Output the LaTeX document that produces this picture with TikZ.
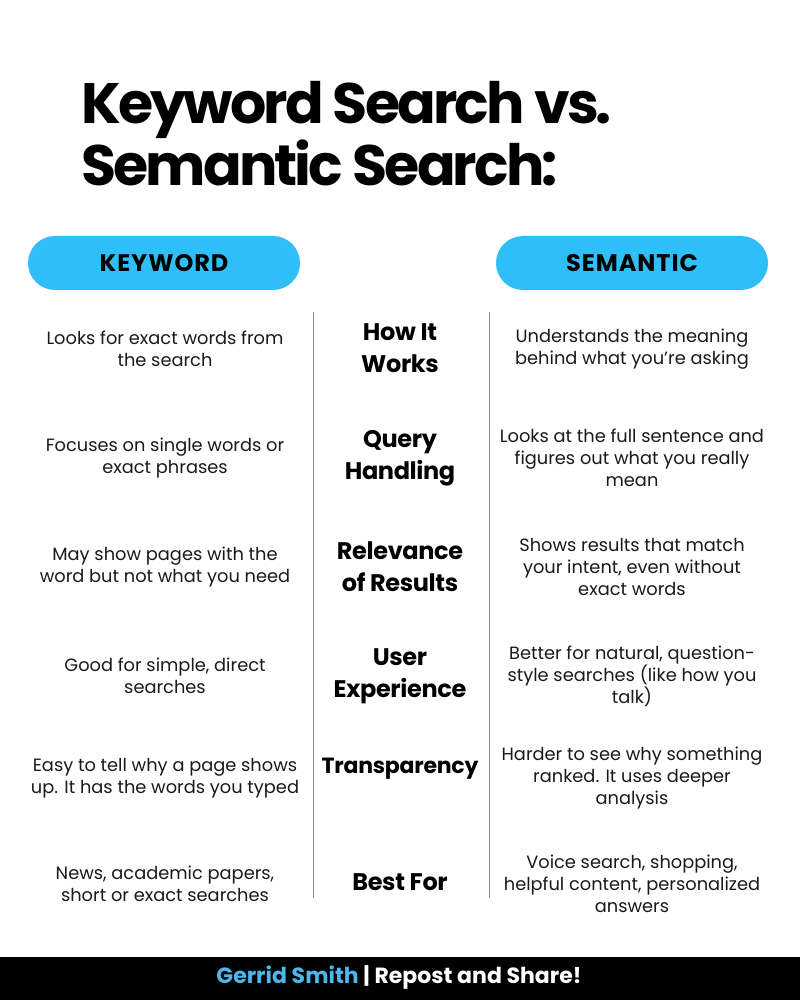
\documentclass[tikz,border=0pt]{standalone}
\usepackage{fontspec}
\setmainfont{Poppins}
\definecolor{pillblue}{HTML}{2EBFF8}
\definecolor{footblue}{HTML}{4DB6EC}
\definecolor{bodyink}{HTML}{1A1A1A}
\definecolor{rulegray}{HTML}{8A8A8A}
\begin{document}
\begin{tikzpicture}[x=1pt,y=-1pt,
  bodytext/.style={align=center, text=bodyink, inner sep=0pt, font=\fontsize{17.8}{22}\selectfont},
  midlabel/.style={align=center, text=black, inner sep=0pt, font=\fontsize{24}{32}\selectfont\bfseries\addfontfeatures{LetterSpace=-1.5}},
  pill/.style={fill=pillblue, rounded corners=27pt, minimum width=272pt, minimum height=54pt, inner sep=0pt, font=\fontsize{24}{26}\selectfont\bfseries\addfontfeatures{LetterSpace=4}},
  titletext/.style={anchor=base west, inner sep=0pt, font=\fontsize{57}{61}\selectfont\bfseries\addfontfeatures{LetterSpace=-5}},
  colrule/.style={draw=rulegray, line width=1pt}]
\useasboundingbox (0,0) rectangle (800,1000);
\fill[white] (0,0) rectangle (800,1000);
% title
\node[titletext] (t1) at (81,124) {Keyword Search vs.};
\node[titletext] (t2) at (81,186) {Semantic Search:};
% pills
\node[pill] (kw) at (164,263) {KEYWORD};
\node[pill] (sem) at (632,263) {SEMANTIC};
% column rules
\coordinate (r1a) at (313,312); \coordinate (r1b) at (313,898);
\coordinate (r2a) at (489,312); \coordinate (r2b) at (489,898);
\draw[colrule] (r1a) -- (r1b);
\draw[colrule] (r2a) -- (r2b);
% row 1
\node[bodytext] (l1) at (165,349) {Looks for exact words from\\the search};
\node[midlabel] (m1) at (400,348) {How It\\Works};
\node[bodytext] (s1) at (632,349) {Understands the meaning\\behind what you're asking};
% row 2
\node[bodytext] (l2) at (165,458) {Focuses on single words or\\exact phrases};
\node[midlabel] (m2) at (400,458) {Query\\Handling};
\node[bodytext] (s2) at (632,458) {Looks at the full sentence and\\figures out what you really\\mean};
% row 3
\node[bodytext] (l3) at (165,567) {May show pages with the\\word but not what you need};
\node[midlabel] (m3) at (400,567) {Relevance\\of Results};
\node[bodytext] (s3) at (632,567) {Shows results that match\\your intent, even without\\exact words};
% row 4
\node[bodytext] (l4) at (165,676) {Good for simple, direct\\searches};
\node[midlabel] (m4) at (400,676) {User\\Experience};
\node[bodytext] (s4) at (632,676) {Better for natural, question-\\style searches (like how you\\talk)};
% row 5
\node[bodytext] (l5) at (165,778) {Easy to tell why a page shows\\up. It has the words you typed};
\node[midlabel, font=\fontsize{22}{30}\selectfont\bfseries\addfontfeatures{LetterSpace=-1}] (m5) at (400,769) {Transparency};
\node[bodytext] (s5) at (632,778) {Harder to see why something\\ranked. It uses deeper\\analysis};
% row 6
\node[bodytext] (l6) at (165,884) {News, academic papers,\\short or exact searches};
\node[midlabel] (m6) at (400,882) {Best For};
\node[bodytext] (s6) at (632,884) {Voice search, shopping,\\helpful content, personalized\\answers};
% footer
\fill[black] (0,957) rectangle (800,1000);
\node[inner sep=0pt, font=\fontsize{22}{24}\selectfont\bfseries] (foot) at (399,977) {\textcolor{footblue}{Gerrid Smith}~\textcolor{white}{|~Repost and Share!}};
\end{tikzpicture}
\end{document}
